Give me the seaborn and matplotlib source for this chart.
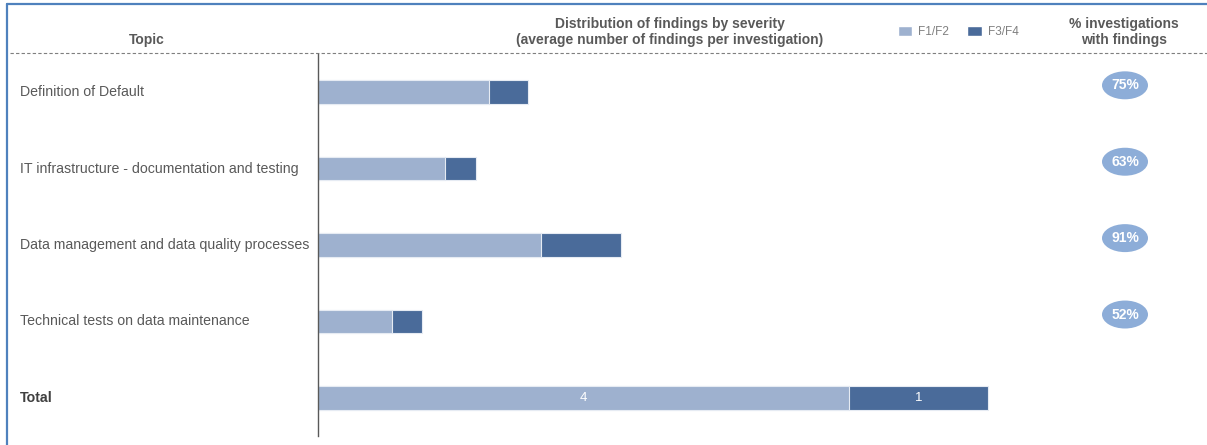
import pandas as pd
import seaborn as sns
import matplotlib.pyplot as plt
from matplotlib.patches import Ellipse, Patch
from matplotlib.transforms import blended_transform_factory

# data
topics = ["Definition of Default",
          "IT infrastructure - documentation and testing",
          "Data management and data quality processes",
          "Technical tests on data maintenance",
          "Total"]
f12 = [1.29, 0.96, 1.68, 0.56, 4.00]
f34 = [0.29, 0.23, 0.60, 0.22, 1.05]
pct = ["75%", "63%", "91%", "52%"]
total_labels = ["4", "1"]

df = pd.DataFrame({"topic": topics, "F1/F2": f12, "F3/F4": f34})
df["sum"] = df["F1/F2"] + df["F3/F4"]

light = "#9EB1CF"
dark = "#4A6B9A"
grey = "#595959"

sns.set_style("white")
plt.rcParams["font.family"] = ["Liberation Sans", "DejaVu Sans"]

W, H = 1207, 445
fig = plt.figure(figsize=(W / 100, H / 100), dpi=100)

# overlay axes in pixel coordinates for frame, headers, separators
ov = fig.add_axes([0, 0, 1, 1])
ov.set_xlim(0, W)
ov.set_ylim(H, 0)
ov.axis("off")
ov.plot([7, W], [4, 4], color="#4F81BD", lw=1.6)
ov.plot([7, 7], [4, H], color="#4F81BD", lw=1.6)
ov.plot([10, W], [53, 53], color="#7F7F7F", lw=0.8, ls=(0, (3, 2)))

ov.text(147, 40, "Topic", ha="center", va="center", fontsize=10, fontweight="bold", color=grey)
ov.text(670, 32, "Distribution of findings by severity\n(average number of findings per investigation)",
        ha="center", va="center", fontsize=10, fontweight="bold", color=grey, linespacing=1.25)
ov.text(1124, 32, "% investigations\nwith findings", ha="center", va="center",
        fontsize=10, fontweight="bold", color=grey, linespacing=1.25)

# bar axes
x0, y_top, y_bot = 318, 54, 436
ax = fig.add_axes([x0 / W, 1 - y_bot / H, (W - x0) / W, (y_bot - y_top) / H])
sns.barplot(data=df, x="sum", y="topic", order=topics, color=dark, width=0.31,
            saturation=1, edgecolor="#E6EBF3", linewidth=0.8, ax=ax)
sns.barplot(data=df, x="F1/F2", y="topic", order=topics, color=light, width=0.31,
            saturation=1, edgecolor="#E6EBF3", linewidth=0.8, ax=ax)
ax.set_xlim(0, (W - x0) / 132.75)
ax.set_ylim(len(topics) - 0.5, -0.5)
ax.set_xlabel("")
ax.set_ylabel("")
ax.set_xticks([])
ax.set_yticks([])
for s in ["top", "right", "bottom"]:
    ax.spines[s].set_visible(False)
ax.spines["left"].set_color(grey)
ax.spines["left"].set_linewidth(1)
ax.patch.set_alpha(0)

# topic labels
tr = blended_transform_factory(fig.transFigure, ax.transData)
for i, t in enumerate(topics):
    bold = t == "Total"
    ax.text(20 / W, i, t, transform=tr, ha="left", va="center", fontsize=10.2,
            color=grey if not bold else "#404040", fontweight="bold" if bold else "normal")

# labels on total bar
last = len(topics) - 1
ax.text(df["F1/F2"][last] / 2, last, total_labels[0], ha="center", va="center",
        color="white", fontsize=9.5)
ax.text(df["F1/F2"][last] + df["F3/F4"][last] / 2, last, total_labels[1], ha="center",
        va="center", color="white", fontsize=9.5)

# percentage bubbles
cx = (1125 - x0) / 132.75
for i, p in enumerate(pct):
    ax.add_patch(Ellipse((cx, i - 0.09), 46 / 132.75, 28 / 76.5, facecolor="#8DADD8",
                         edgecolor="none"))
    ax.text(cx, i - 0.09, p, ha="center", va="center", color="white", fontsize=10,
            fontweight="bold")

# legend
handles = [Patch(facecolor=light, label="F1/F2"), Patch(facecolor=dark, label="F3/F4")]
fig.legend(handles=handles, loc="center", bbox_to_anchor=(958 / W, 1 - 32 / H), ncol=2,
           frameon=False, fontsize=8.5, handlelength=1.2, handleheight=0.85,
           handletextpad=0.5, columnspacing=1.6, labelcolor="#7F7F7F")

fig.savefig("out.png", dpi=100)
